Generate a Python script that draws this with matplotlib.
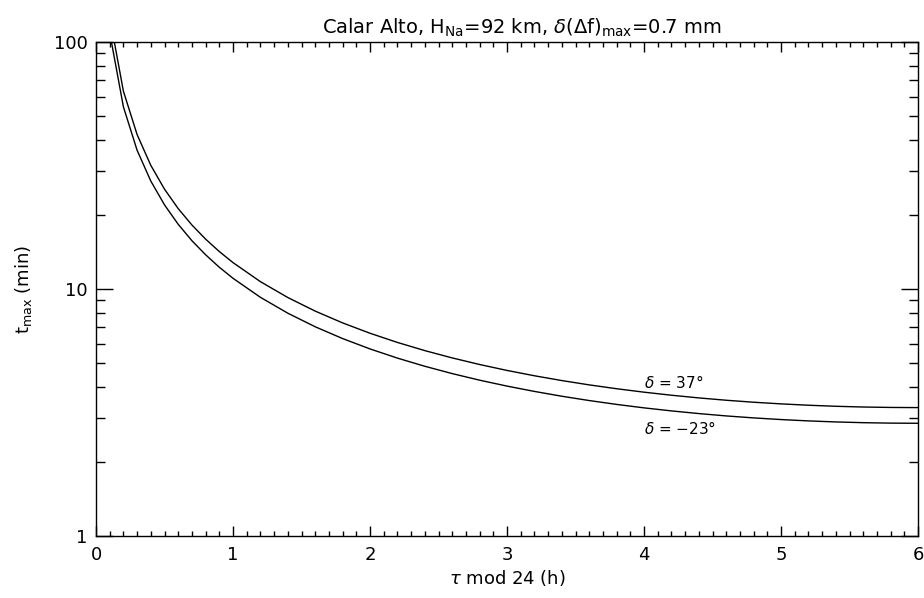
import matplotlib
matplotlib.use("Agg")
import matplotlib.pyplot as plt
from matplotlib.ticker import MultipleLocator, LogLocator, FixedLocator, NullFormatter

plt.rcParams['font.family'] = ['DejaVu Sans']
plt.rcParams['mathtext.fontset'] = 'dejavusans'

# hour angle tau mod 24 (h)
tau = [0.1, 0.2, 0.3, 0.4, 0.5, 0.6, 0.7, 0.8, 0.9, 1.0,
       1.2, 1.4, 1.6, 1.8, 2.0, 2.2, 2.4, 2.6, 2.8, 3.0,
       3.2, 3.4, 3.6, 3.8, 4.0, 4.2, 4.4, 4.6, 4.8, 5.0,
       5.2, 5.4, 5.6, 5.8, 6.0]
# t_max (min) for declination +37 deg
t_dec37 = [126.4, 63.24, 42.19, 31.67, 25.36, 21.16, 18.16, 15.92, 14.18, 12.79,
           10.71, 9.236, 8.138, 7.291, 6.62, 6.077, 5.631, 5.260, 4.947, 4.681,
           4.454, 4.259, 4.091, 3.947, 3.822, 3.715, 3.623, 3.545, 3.480, 3.427,
           3.384, 3.351, 3.328, 3.315, 3.31]
# t_max (min) for declination -23 deg
t_decm23 = [109.2, 54.64, 36.45, 27.36, 21.91, 18.28, 15.69, 13.76, 12.25, 11.05,
            9.255, 7.981, 7.032, 6.300, 5.72, 5.251, 4.866, 4.545, 4.274, 4.045,
            3.849, 3.680, 3.535, 3.410, 3.302, 3.210, 3.131, 3.063, 3.007, 2.961,
            2.924, 2.896, 2.876, 2.864, 2.86]

labels = [r'$\delta$ = 37°', r'$\delta$ = $-$23°']
label_pos = [(4.0, 4.2), (4.0, 2.72)]

xticks = [0, 1, 2, 3, 4, 5, 6]
yticks = [1, 10, 100]
yticklabels = ['1', '10', '100']

fig = plt.figure(figsize=(9.24, 5.98), dpi=100)
ax = fig.add_axes([96/924, 62/598, 822/924, 494/598])

ax.plot(tau, t_dec37, color='black', lw=1.0)
ax.plot(tau, t_decm23, color='black', lw=1.0)

for (x, y), s in zip(label_pos, labels):
    ax.text(x, y, s, fontsize=11, ha='left', va='center')

ax.set_yscale('log')
ax.set_xlim(0, 6)
ax.set_ylim(1, 100)

ax.xaxis.set_major_locator(FixedLocator(xticks))
ax.xaxis.set_minor_locator(MultipleLocator(0.1))
ax.set_xticklabels([str(t) for t in xticks])
ax.yaxis.set_major_locator(FixedLocator(yticks))
ax.set_yticklabels(yticklabels)
ax.yaxis.set_minor_locator(LogLocator(base=10, subs=range(2, 10)))
ax.yaxis.set_minor_formatter(NullFormatter())

ax.tick_params(axis='x', which='major', direction='in', length=7, width=1, top=True, labelsize=13, pad=7)
ax.tick_params(axis='x', which='minor', direction='in', length=3.5, width=1, top=True)
ax.tick_params(axis='y', which='major', direction='in', length=12, width=1, right=True, labelsize=13, pad=6)
ax.tick_params(axis='y', which='minor', direction='in', length=6.5, width=1, right=True)

for sp in ax.spines.values():
    sp.set_linewidth(1.0)

ax.set_xlabel(r'$\tau$ mod 24 (h)', fontsize=13, labelpad=3)
ax.set_ylabel(r't$_{\rm max}$ (min)', fontsize=13, labelpad=14)
ax.set_title(r'Calar Alto, H$_{\rm Na}$=92 km, $\delta$($\Delta$f)$_{\rm max}$=0.7 mm', fontsize=14, pad=6, x=0.518)

fig.savefig('out.png', dpi=100)
